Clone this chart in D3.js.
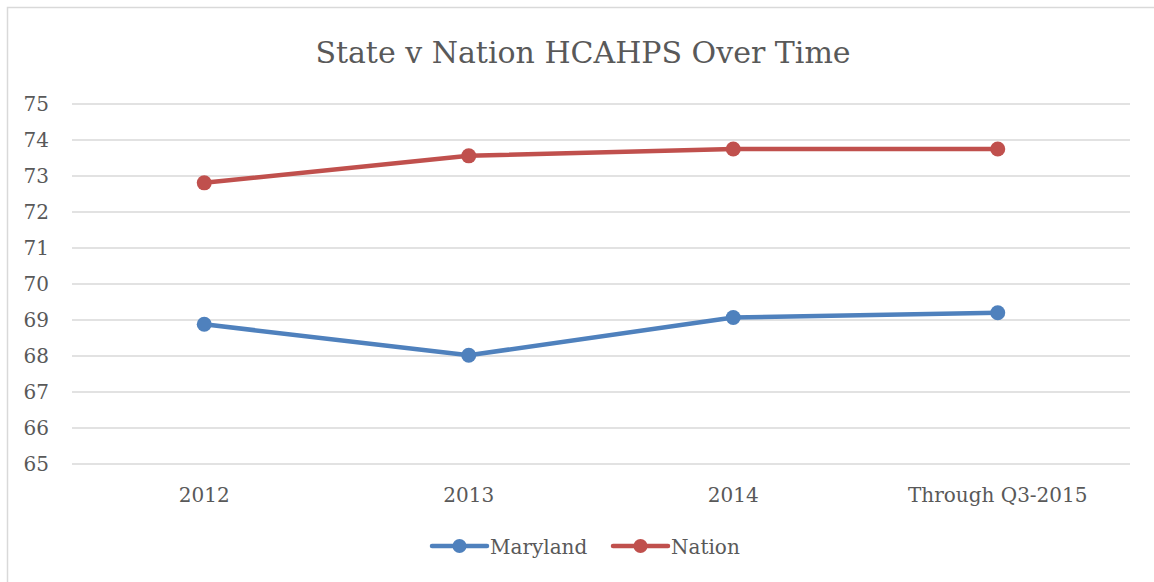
<!DOCTYPE html>
<html>
<head>
<meta charset="utf-8">
<script src="https://cdn.jsdelivr.net/npm/d3@7"></script>
<style>
  body { margin: 0; background: #fff; }
  text { font-family: "DejaVu Serif", "Liberation Serif", serif; fill: #595959; }
</style>
</head>
<body>
<script>
// chart data
const categories = ["2012", "2013", "2014", "Through Q3-2015"];
const maryland = [68.88, 68.02, 69.07, 69.2];
const nation = [72.81, 73.56, 73.75, 73.75];
const yTicks = [65, 66, 67, 68, 69, 70, 71, 72, 73, 74, 75];
const seriesNames = ["Maryland", "Nation"];
const seriesColors = ["#4f81bd", "#c0504d"];

const width = 1154, height = 582;

const svg = d3.select('body').append('svg')
  .attr('width', width)
  .attr('height', height);

// chart frame (runs off the right and bottom of the picture)
svg.append('rect')
  .attr('x', 7.5).attr('y', 7.5)
  .attr('width', 1200).attr('height', 700)
  .attr('fill', 'none')
  .attr('stroke', '#d9d9d9')
  .attr('stroke-width', 1.5);

const x = d3.scaleBand().domain(categories).range([72, 1130]);
const y = d3.scaleLinear().domain([65, 75]).range([464, 104]);

// title
svg.append('text')
  .attr('x', 583).attr('y', 63)
  .attr('text-anchor', 'middle')
  .style('font-size', '30px')
  .text('State v Nation HCAHPS Over Time');

// gridlines
svg.append('g').selectAll('line').data(yTicks).enter()
  .append('line')
  .attr('x1', 72).attr('x2', 1130)
  .attr('y1', d => y(d)).attr('y2', d => y(d))
  .attr('stroke', '#d9d9d9')
  .attr('stroke-width', 1.5);

// y axis labels
const yAxis = svg.append('g')
  .attr('transform', 'translate(49,0)')
  .call(d3.axisLeft(y).tickValues(yTicks).tickSize(0).tickPadding(0));
yAxis.select('.domain').remove();
yAxis.selectAll('text').style('font-size', '20px').attr('fill', '#595959');

// x axis labels
const xAxis = svg.append('g')
  .attr('transform', 'translate(0,488)')
  .call(d3.axisBottom(x).tickSize(0).tickPadding(0));
xAxis.select('.domain').remove();
xAxis.selectAll('text').style('font-size', '20px').attr('fill', '#595959');

// lines
const line = d3.line()
  .x((d, i) => x(categories[i]) + x.bandwidth() / 2)
  .y(d => y(d));

[maryland, nation].forEach((vals, k) => {
  svg.append('path')
    .datum(vals)
    .attr('d', line)
    .attr('fill', 'none')
    .attr('stroke', seriesColors[k])
    .attr('stroke-width', 4.5)
    .attr('stroke-linejoin', 'round')
    .attr('stroke-linecap', 'round');
  svg.append('g').selectAll('circle').data(vals).enter()
    .append('circle')
    .attr('cx', (d, i) => x(categories[i]) + x.bandwidth() / 2)
    .attr('cy', d => y(d))
    .attr('r', 7.5)
    .attr('fill', seriesColors[k]);
});

// legend
const legendX = [432, 613];
seriesNames.forEach((name, k) => {
  const g = svg.append('g').attr('transform', `translate(${legendX[k]},546)`);
  g.append('line')
    .attr('x1', 0).attr('x2', 55)
    .attr('stroke', seriesColors[k])
    .attr('stroke-width', 4.5)
    .attr('stroke-linecap', 'round');
  g.append('circle').attr('cx', 27.5).attr('r', 7).attr('fill', seriesColors[k]);
  g.append('text')
    .attr('x', 58).attr('y', 7.5)
    .style('font-size', '20px')
    .text(name);
});
</script>
</body>
</html>
